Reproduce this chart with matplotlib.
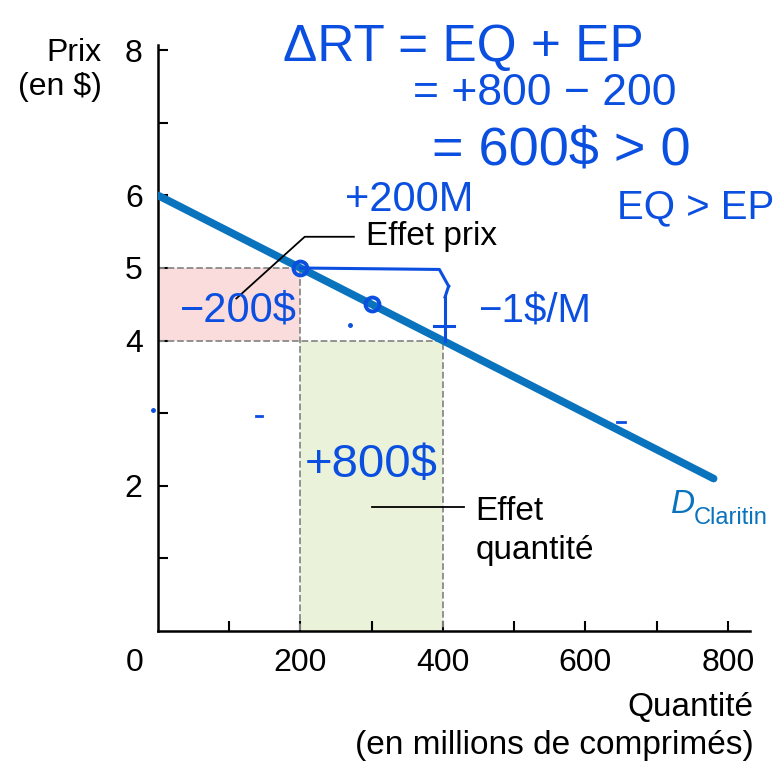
import matplotlib.pyplot as plt
import numpy as np

plt.rcParams['font.family'] = ['Liberation Sans', 'DejaVu Sans']
plt.rcParams['font.size'] = 23

# demand curve for Claritin
qty_demand = [0, 780]
price_demand = [6.0, 2.1]

# before / after the price cut
q_old, p_old = 200, 5
q_new, p_new = 400, 4

y_ticks = [1, 2, 3, 4, 5, 6, 7, 8]
y_ticklabels = ['', '2', '', '4', '5', '6', '', '8']
x_ticks = [100, 200, 300, 400, 500, 600, 700, 800]
x_ticklabels = ['', '200', '', '400', '', '600', '', '800']

blue_line = '#0a73bd'
ink = '#0b4fe0'

fig = plt.figure(figsize=(7.82, 7.64), dpi=100)
ax = fig.add_axes([0.202, 0.174, 0.757, 0.767])

# effet prix / effet quantité rectangles
ax.fill_between([0, q_old], p_new, p_old, color='#fadcdc', lw=0, zorder=1)
ax.fill_between([q_old, q_new], 0, p_new, color='#eaf2d9', lw=0, zorder=1)

# dashed guides
ax.plot([0, q_old, q_old], [p_old, p_old, 0], ls='--', color='#8a8a8a', lw=1.3, zorder=2)
ax.plot([0, q_new, q_new], [p_new, p_new, 0], ls='--', color='#8a8a8a', lw=1.3, zorder=2)

ax.plot(qty_demand, price_demand, color=blue_line, lw=5.5, solid_capstyle='round', zorder=3)

ax.set_xlim(0, 831)
ax.set_ylim(0, 8.07)
ax.spines['top'].set_visible(False)
ax.spines['right'].set_visible(False)
for s in ['left', 'bottom']:
    ax.spines[s].set_linewidth(1.8)
ax.set_xticks(x_ticks)
ax.set_xticklabels(x_ticklabels)
ax.set_yticks(y_ticks)
ax.set_yticklabels(y_ticklabels)
ax.tick_params(axis='both', direction='in', length=7, width=1.5, labelsize=23)
ax.tick_params(axis='y', pad=11)
ax.tick_params(axis='x', pad=12)
ax.annotate('0', xy=(0, 0), xytext=(-16.5, -12.5), textcoords='offset points',
            ha='center', va='top', fontsize=23, annotation_clip=False)

fig.text(0.130, 0.950, 'Prix\n(en $)', ha='right', va='top', fontsize=23, linespacing=1.15)
fig.text(0.964, 0.094, 'Quantité\n(en millions de comprimés)', ha='right', va='top',
         fontsize=24, linespacing=1.3)

# labels with leader lines
ax.plot([q_old - 90, q_old + 6, q_old + 75], [4.58, 5.43, 5.43], color='black', lw=1.3, zorder=4)
ax.text(q_old + 92, 5.43, 'Effet prix', ha='left', va='center', fontsize=24)
ax.plot([q_old + 100, q_new + 30], [1.71, 1.71], color='black', lw=1.3, zorder=4)
ax.text(q_new + 46, 1.38, 'Effet\nquantité', ha='left', va='center', fontsize=24,
        linespacing=1.35)
ax.text(720, 1.62, 'D', color=blue_line, fontsize=24, style='italic', ha='left', va='baseline')
ax.text(752, 1.48, 'Claritin', color=blue_line, fontsize=17, ha='left', va='baseline',
        clip_on=False)

# handwritten notes
notes = [
    (175, 8.04, 'ΔRT = EQ + EP', 37),
    (358, 7.41, '= +800 − 200', 32),
    (385, 6.62, '= 600$ > 0', 39),
    (644, 5.83, 'EQ > EP', 29),
    (262, 5.93, '+200M', 30),
    (449, 4.40, '−1$/M', 29),
    (31, 4.42, '−200$', 30),
    (206, 2.29, '+800$', 34),
]
for x, y, s, fs in notes:
    ax.text(x, y, s, color=ink, fontsize=fs, ha='left', va='center', zorder=6, clip_on=False)

ax.plot([q_old, q_new - 5, q_new + 8], [p_old, p_old - 0.02, p_old - 0.25], color=ink, lw=2.2, zorder=5)
ax.plot([q_new + 8, q_new + 3], [p_old - 0.25, p_old - 0.4], color=ink, lw=2.2, zorder=5)
ax.plot([q_new + 3, q_new + 3], [p_old - 0.4, p_new], color=ink, lw=2.2, zorder=5)
ax.plot([q_new - 12, q_new + 15], [p_new + 0.2, p_new + 0.2], color=ink, lw=2.2, zorder=5)
ax.plot([q_old, (q_old + q_new) / 2], [p_old, (p_old + p_new) / 2], 'o', ms=10,
        mfc='none', mec=ink, mew=2.8, zorder=5)
# stray pen marks
ax.plot([270], [4.21], '.', color=ink, ms=5, zorder=5)
ax.plot([137, 146], [2.96, 2.96], color=ink, lw=2, zorder=5)
ax.plot([645, 655], [2.88, 2.88], color=ink, lw=2, zorder=5)
ax.plot([-7], [3.04], '.', color=ink, ms=5, zorder=5, clip_on=False)

fig.savefig('out.png', dpi=100)
